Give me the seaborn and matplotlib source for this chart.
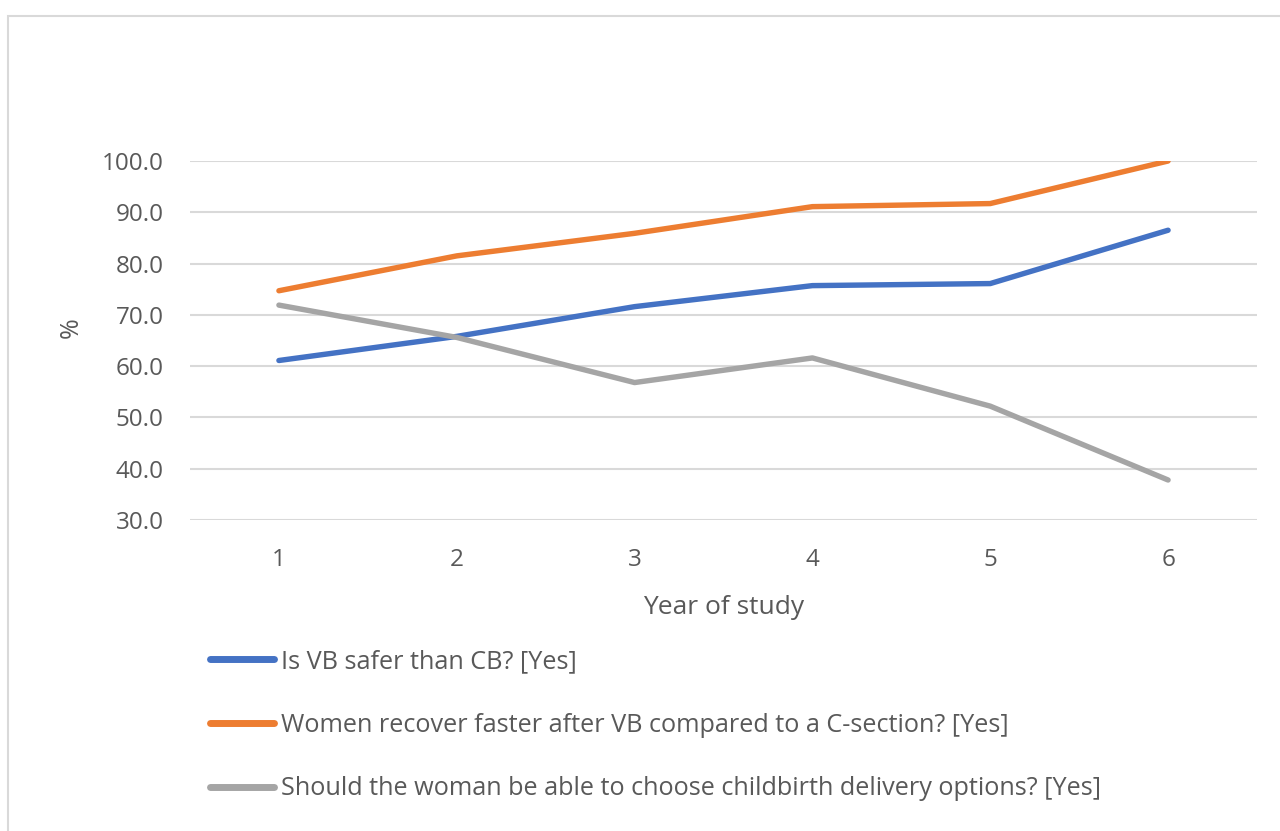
import matplotlib
matplotlib.use("Agg")
import matplotlib.pyplot as plt
import matplotlib.patches as mpatches
import seaborn as sns
import pandas as pd

# Survey answers by year of study (% answering "Yes")
years = [1, 2, 3, 4, 5, 6]
safer_vb = [61.1, 65.8, 71.6, 75.7, 76.1, 86.5]
recover_faster = [74.7, 81.5, 85.9, 91.1, 91.7, 100.0]
choose_delivery = [71.9, 65.6, 56.8, 61.6, 52.2, 37.8]

series_names = [
    "Is VB safer than CB? [Yes]",
    "Women recover faster after VB compared to a C-section? [Yes]",
    "Should the woman be able to choose childbirth delivery options? [Yes]",
]
series_colors = ["#4472C4", "#ED7D31", "#A5A5A5"]
y_ticks = [30, 40, 50, 60, 70, 80, 90, 100]

df = pd.concat(
    [
        pd.DataFrame({"Year": years, "Percent": vals, "Question": name})
        for name, vals in zip(series_names, [safer_vb, recover_faster, choose_delivery])
    ],
    ignore_index=True,
)

sns.set_theme(style="white")
plt.rcParams["font.family"] = ["Open Sans", "DejaVu Sans"]
text_color = "#595959"
grid_color = "#D9D9D9"

fig = plt.figure(figsize=(12.8, 8.31), dpi=100)
ax = fig.add_axes([190 / 1280, 1 - 520 / 831, (1257 - 190) / 1280, (520 - 161) / 831])

sns.lineplot(
    data=df, x="Year", y="Percent", hue="Question",
    palette=dict(zip(series_names, series_colors)),
    linewidth=3.9, ax=ax, legend=False,
)
for line in ax.lines:
    line.set_solid_capstyle("round")
    line.set_solid_joinstyle("round")

ax.set_xlim(0.5, 6.5)
ax.set_ylim(30, 100)
ax.set_xticks(years)
ax.set_xticklabels([str(y) for y in years])
ax.set_yticks(y_ticks)
ax.set_yticklabels([f"{v:.1f}" for v in y_ticks])
ax.yaxis.grid(True, color=grid_color, linewidth=1.5)
ax.set_axisbelow(True)
for s in ax.spines.values():
    s.set_visible(False)
ax.tick_params(axis="y", length=0, pad=19, labelsize=17.5, labelcolor=text_color)
ax.tick_params(axis="x", length=0, pad=20, labelsize=17.5, labelcolor=text_color)

ax.set_xlabel("Year of study", fontsize=19, color=text_color, labelpad=17)
ax.set_ylabel("%", fontsize=18, color=text_color)
ax.yaxis.set_label_coords(-0.100, 0.537)

handles = [
    plt.Line2D([], [], color=c, linewidth=5, solid_capstyle="round")
    for c in series_colors
]
fig.legend(
    handles, series_names,
    loc="upper left", bbox_to_anchor=(210 / 1280, 1 - 649 / 831),
    frameon=False, fontsize=18.2, labelcolor=text_color,
    handlelength=2.55, handletextpad=0.25, labelspacing=1.53,
    borderpad=0, borderaxespad=0,
)

# Light chart-area border
fig.patches.append(
    mpatches.Rectangle(
        (8 / 1280, -0.1), 1.2, 1 - 16 / 831 + 0.1,
        transform=fig.transFigure, fill=False,
        edgecolor=grid_color, linewidth=1.5,
    )
)

fig.savefig("out.png", dpi=100)
